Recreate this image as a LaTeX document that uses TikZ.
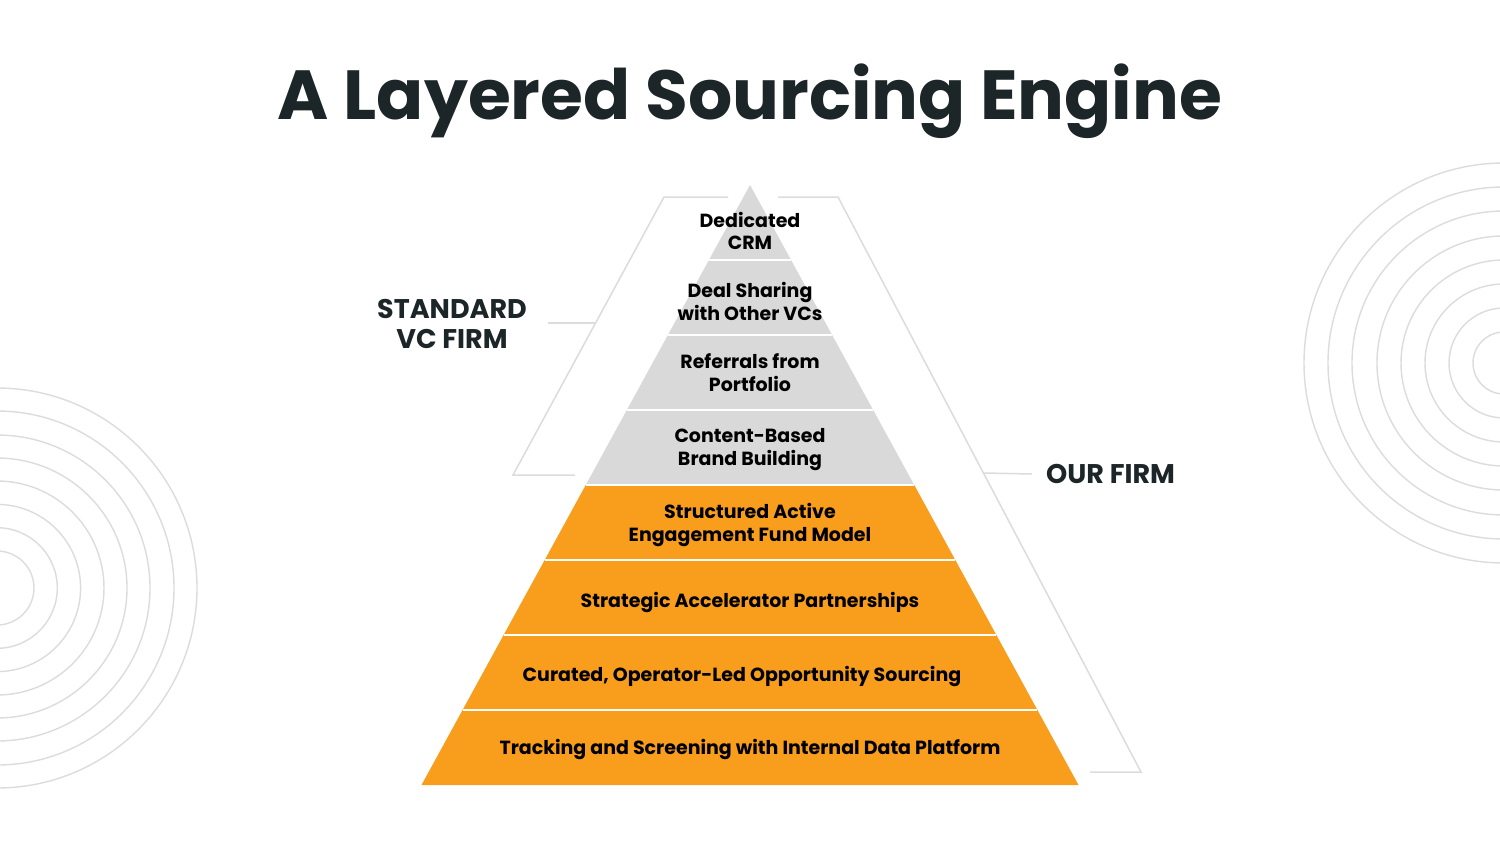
\documentclass[tikz,border=0pt]{standalone}
\usepackage{fontspec}
\setmainfont{Poppins}
\usepackage{tikz}

\definecolor{layergray}{HTML}{D9D9D9}
\definecolor{layerorange}{HTML}{F89E1C}
\definecolor{titleink}{HTML}{1C2528}
\definecolor{ringgray}{HTML}{DCDCDC}

\tikzset{
  layertext/.style={font=\bfseries\fontsize{19}{22.5}\selectfont, text=black, align=center, inner sep=0},
  sidelabel/.style={font=\bfseries\fontsize{27}{30}\selectfont, text=titleink, align=center, inner sep=0},
  bracket/.style={draw=ringgray, line width=1.5},
  ring/.style={draw=ringgray, line width=1.4}
}

\begin{document}
\begin{tikzpicture}[x=1pt, y=-1pt]
  \useasboundingbox (0,0) rectangle (1500,844);
  \fill[white] (0,0) rectangle (1500,844);

  % rings at the edges
  \begin{scope}
    \clip (0,0) rectangle (1500,844);
    \foreach \r in {37,60.3,83.6,107,130,153,177,200}
      \draw[ring] (-3,588) circle[radius=\r];
    \foreach \r in {31,55,79,103,127,152,176,200}
      \draw[ring] (1504,363) circle[radius=\r];
  \end{scope}

  \node[font=\bfseries\fontsize{69.5}{69.5}\selectfont, text=titleink] (title) at (750,101) {A Layered Sourcing Engine};

  % the pyramid
  \foreach \t/\b/\c in {185/260/layergray, 260/335/layergray, 335/410/layergray, 410/485/layergray,
                        485/560/layerorange, 560/635/layerorange, 635/710/layerorange, 710/785/layerorange}
    \fill[\c] ({750-(\t-185)*0.5475},\t) -- ({750+(\t-185)*0.5475},\t)
      -- ({750+(\b-185)*0.5475},\b) -- ({750-(\b-185)*0.5475},\b) -- cycle;
  \foreach \y in {260,335,...,710}
    \draw[white, line width=1.5] ({750-(\y-185)*0.5475},\y) -- ({750+(\y-185)*0.5475},\y);

  \node[layertext] (crm) at (750,231) {Dedicated\\CRM};
  \node[layertext] (deal) at (750,301.5) {Deal Sharing\\with Other VCs};
  \node[layertext] (referral) at (750,372.5) {Referrals from\\Portfolio};
  \node[layertext] (content) at (750,449.5) {Content-Based\\Brand Building};
  \node[layertext] (engage) at (750,525) {Structured Active\\Engagement Fund Model};
  \node[layertext] (accel) at (750,602) {Strategic Accelerator Partnerships};
  \node[layertext] (curated) at (742,676) {Curated, Operator-Led Opportunity Sourcing};
  \node[layertext] (tracking) at (750,749) {Tracking and Screening with Internal Data Platform};

  % brackets
  \draw[bracket] (728,197) -- (664,197) -- (513,475) -- (575,475);
  \draw[bracket] (778,197) -- (838,197) -- (1141,772) -- (1090,772);
  \coordinate (stdtick) at (595.6,323);
  \coordinate (ourtick) at (983.5,473);

  \node[sidelabel] (std) at (452,324) {STANDARD\\VC FIRM};
  \node[sidelabel, anchor=west] (our) at (1046,474) {OUR FIRM};
  \draw[bracket] (548,323) -- (stdtick);
  \draw[bracket] (ourtick) -- ([xshift=-14]our.west);
\end{tikzpicture}
\end{document}
